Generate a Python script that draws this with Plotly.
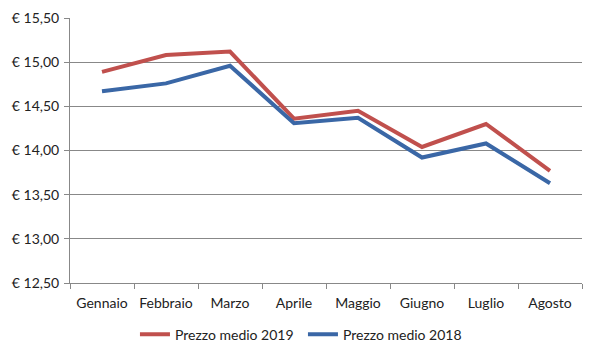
import plotly.graph_objects as go

mesi = ["Gennaio", "Febbraio", "Marzo", "Aprile", "Maggio", "Giugno", "Luglio", "Agosto"]
prezzo_2019 = [14.89, 15.08, 15.12, 14.36, 14.45, 14.04, 14.30, 13.77]
prezzo_2018 = [14.67, 14.76, 14.96, 14.31, 14.37, 13.92, 14.08, 13.63]
y_ticks = [12.5, 13.0, 13.5, 14.0, 14.5, 15.0, 15.5]
y_labels = ["€ 12,50", "€ 13,00", "€ 13,50", "€ 14,00", "€ 14,50", "€ 15,00", "€ 15,50"]

fig = go.Figure()
fig.add_trace(go.Scatter(x=mesi, y=prezzo_2019, mode="lines", name="Prezzo medio 2019",
                         line=dict(color="#C0504D", width=4)))
fig.add_trace(go.Scatter(x=mesi, y=prezzo_2018, mode="lines", name="Prezzo medio 2018",
                         line=dict(color="#3A67A6", width=4)))

fig.update_layout(
    width=600, height=360,
    margin=dict(l=62, r=26, t=10, b=85, autoexpand=False),
    paper_bgcolor="white", plot_bgcolor="white",
    font=dict(family="Lato, Liberation Sans, sans-serif", size=14, color="#222"),
    showlegend=True,
    legend=dict(orientation="h", x=0.455, xanchor="center", y=-0.195, yanchor="middle",
                font=dict(size=14), entrywidth=123, traceorder="normal"),
)
fig.update_xaxes(type="category", showline=True, linecolor="#888", linewidth=1,
                 ticks="outside", tickson="boundaries", ticklen=5, tickcolor="#888",
                 showgrid=False, range=[-0.5, 7.5], automargin=False, ticklabelstandoff=7)
fig.update_yaxes(range=[12.5, 15.5], tickvals=y_ticks, ticktext=y_labels,
                 showline=True, linecolor="#888", linewidth=1, ticks="outside", ticklen=5,
                 tickcolor="#888", showgrid=True, gridcolor="#888", gridwidth=1,
                 zeroline=False, automargin=False, ticklabelstandoff=2)

fig.write_html("out.html")
